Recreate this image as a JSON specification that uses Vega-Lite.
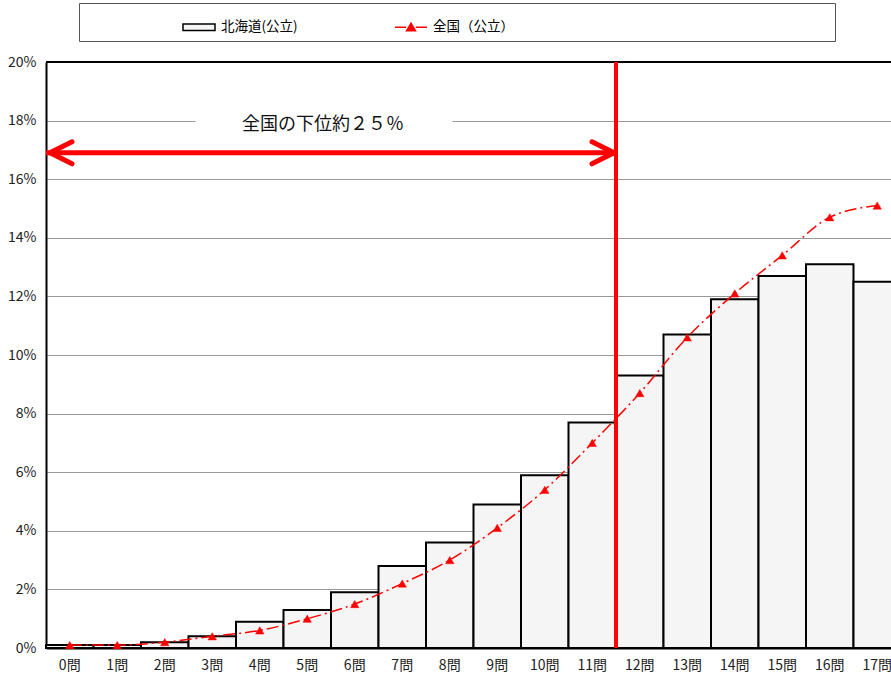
{
  "$schema": "https://vega.github.io/schema/vega-lite/v6.json",
  "autosize": {"type": "none"},
  "padding": {"left": 46, "top": 62, "right": 0, "bottom": 29},
  "width": 845,
  "height": 586,
  "background": "white",
  "config": {
    "font": "Noto Sans CJK JP",
    "view": {"stroke": null},
    "axis": {"domainColor": "black", "domainWidth": 2, "ticks": false, "labelColor": "#222", "labelFontSize": 14, "title": null},
    "legend": {
      "orient": "none", "legendX": 33, "legendY": -59, "direction": "horizontal", "columns": 2,
      "strokeColor": "#555", "padding": 7, "columnPadding": -29, "symbolSize": 1024, "labelFontSize": 13.5, "labelColor": "black", "labelOffset": 5,
      "symbolOffset": 96, "titleOrient": "right", "titlePadding": 314, "titleFontSize": 13, "symbolStrokeWidth": 1.5
    }
  },
  "datasets": {
    "main": [
      {"q": "0問", "hokkaido": 0.1, "zenkoku": 0.1},
      {"q": "1問", "hokkaido": 0.1, "zenkoku": 0.1},
      {"q": "2問", "hokkaido": 0.2, "zenkoku": 0.2},
      {"q": "3問", "hokkaido": 0.4, "zenkoku": 0.4},
      {"q": "4問", "hokkaido": 0.9, "zenkoku": 0.6},
      {"q": "5問", "hokkaido": 1.3, "zenkoku": 1.0},
      {"q": "6問", "hokkaido": 1.9, "zenkoku": 1.5},
      {"q": "7問", "hokkaido": 2.8, "zenkoku": 2.2},
      {"q": "8問", "hokkaido": 3.6, "zenkoku": 3.0},
      {"q": "9問", "hokkaido": 4.9, "zenkoku": 4.1},
      {"q": "10問", "hokkaido": 5.9, "zenkoku": 5.4},
      {"q": "11問", "hokkaido": 7.7, "zenkoku": 7.0},
      {"q": "12問", "hokkaido": 9.3, "zenkoku": 8.7},
      {"q": "13問", "hokkaido": 10.7, "zenkoku": 10.6},
      {"q": "14問", "hokkaido": 11.9, "zenkoku": 12.1},
      {"q": "15問", "hokkaido": 12.7, "zenkoku": 13.4},
      {"q": "16問", "hokkaido": 13.1, "zenkoku": 14.7},
      {"q": "17問", "hokkaido": 12.5, "zenkoku": 15.1}
    ],
    "annot": [
      {"from": "0問", "to": "12問", "level": 16.9, "label": "全国の下位約２５％", "labelAt": "6問", "labelLevel": 17.85, "boxFrom": "3問", "boxTo": "8問", "boxLow": 17.6, "boxHigh": 18.2}
    ]
  },
  "encoding": {
    "x": {
      "field": "q", "type": "nominal", "sort": null,
      "scale": {"domain": ["0問","1問","2問","3問","4問","5問","6問","7問","8問","9問","10問","11問","12問","13問","14問","15問","16問","17問"], "range": [0, 855], "paddingInner": 0, "paddingOuter": 0},
      "axis": {"labelAngle": 0, "labelPadding": 10, "grid": false}
    }
  },
  "layer": [
    {
      "data": {"name": "main"},
      "mark": {"type": "bar", "stroke": "black", "strokeWidth": 2},
      "encoding": {
        "y": {"field": "hokkaido", "type": "quantitative", "scale": {"domain": [0, 20]},
          "axis": {"values": [0,2,4,6,8,10,12,14,16,18,20], "labelExpr": "datum.value + '%'", "labelPadding": 10, "gridColor": "#999", "gridWidth": 1}},
        "fill": {"datum": "北海道(公立)", "type": "nominal",
          "scale": {"domain": ["北海道(公立)", "全国（公立）"], "range": ["#f5f5f5", "#ff0000"]},
          "legend": {
            "title": "　",
            "encode": {"symbols": {"update": {
              "shape": {"signal": "datum.value === '北海道(公立)' ? 'M-1,-0.2H1V0.2H-1Z' : 'M-1,0H-0.3M0.3,0H1M-0.28,0.22L0,-0.25L0.28,0.22Z'"},
              "strokeWidth": {"value": 1.5}, "opacity": {"value": 1}, "fillOpacity": {"value": 1}, "strokeOpacity": {"value": 1}
            }}}
          }}
      }
    },
    {
      "data": {"name": "annot"},
      "mark": {"type": "rect", "fill": "white", "xOffset": 7, "x2Offset": -21},
      "encoding": {
        "x": {"field": "boxFrom", "type": "nominal", "bandPosition": 0},
        "x2": {"field": "boxTo", "bandPosition": 1},
        "y": {"field": "boxLow", "type": "quantitative"},
        "y2": {"field": "boxHigh"}
      }
    },
    {
      "data": {"name": "main"},
      "mark": {"type": "line", "strokeDash": [12, 4, 2, 4], "strokeWidth": 1.5, "interpolate": "monotone"},
      "encoding": {
        "y": {"field": "zenkoku", "type": "quantitative"},
        "stroke": {"datum": "全国（公立）", "type": "nominal",
          "scale": {"domain": ["北海道(公立)", "全国（公立）"], "range": ["#000000", "#ff0000"]},
          "legend": {
            "title": "　",
            "encode": {"symbols": {"update": {
              "shape": {"signal": "datum.value === '北海道(公立)' ? 'M-1,-0.2H1V0.2H-1Z' : 'M-1,0H-0.3M0.3,0H1M-0.28,0.22L0,-0.25L0.28,0.22Z'"},
              "strokeWidth": {"value": 1.5}, "opacity": {"value": 1}, "fillOpacity": {"value": 1}, "strokeOpacity": {"value": 1}
            }}}
          }}
      }
    },
    {
      "data": {"name": "main"},
      "mark": {"type": "point", "shape": "triangle-up", "filled": true, "size": 70, "opacity": 1, "strokeWidth": 0.5},
      "encoding": {
        "y": {"field": "zenkoku", "type": "quantitative"},
        "fill": {"datum": "全国（公立）", "type": "nominal"},
        "stroke": {"datum": "全国（公立）", "type": "nominal"}
      }
    },
    {
      "data": {"name": "annot"},
      "mark": {"type": "rule", "color": "black", "strokeWidth": 2},
      "encoding": {"y": {"datum": 20}, "x": null}
    },
    {
      "data": {"name": "annot"},
      "mark": {"type": "rule", "color": "#ff0000", "strokeWidth": 4},
      "encoding": {"x": {"field": "to", "type": "nominal", "bandPosition": 0}}
    },
    {
      "data": {"name": "annot"},
      "mark": {"type": "rule", "color": "#ff0000", "strokeWidth": 5},
      "encoding": {
        "x": {"field": "from", "type": "nominal", "bandPosition": 0},
        "x2": {"field": "to", "bandPosition": 0},
        "y": {"field": "level", "type": "quantitative"}
      }
    },
    {
      "data": {"name": "annot"},
      "mark": {"type": "point", "shape": "M2,-1L0,0L2,1", "size": 484, "filled": false, "color": "#ff0000", "strokeWidth": 5, "strokeCap": "round", "strokeJoin": "round", "opacity": 1, "xOffset": 4},
      "encoding": {
        "x": {"field": "from", "type": "nominal", "bandPosition": 0},
        "y": {"field": "level", "type": "quantitative"}
      }
    },
    {
      "data": {"name": "annot"},
      "mark": {"type": "point", "shape": "M-2,-1L0,0L-2,1", "size": 484, "filled": false, "color": "#ff0000", "strokeWidth": 5, "strokeCap": "round", "strokeJoin": "round", "opacity": 1, "xOffset": -2},
      "encoding": {
        "x": {"field": "to", "type": "nominal", "bandPosition": 0},
        "y": {"field": "level", "type": "quantitative"}
      }
    },
    {
      "data": {"name": "annot"},
      "mark": {"type": "text", "fontSize": 18, "color": "#111", "dx": -8, "align": "center", "baseline": "middle"},
      "encoding": {
        "x": {"field": "labelAt", "type": "nominal", "bandPosition": 0},
        "y": {"field": "labelLevel", "type": "quantitative"},
        "text": {"field": "label"}
      }
    }
  ]
}
